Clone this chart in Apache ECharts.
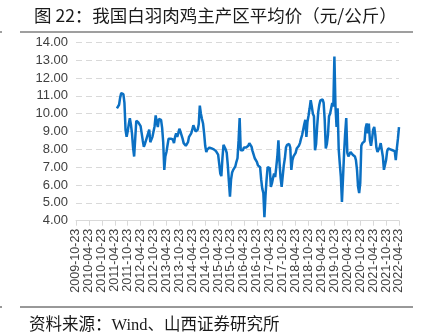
<!DOCTYPE html>
<html>
<head>
<meta charset="utf-8">
<script src="https://cdn.jsdelivr.net/npm/echarts@6/dist/echarts.min.js"></script>
<style>
html,body{margin:0;padding:0;background:#fff;}
#c{width:424px;height:336px;}
</style>
</head>
<body>
<div id="c"></div>
<script>
const titleText = '图 22：我国白羽肉鸡主产区平均价（元/公斤）';
const sourceText = '资料来源：Wind、山西证券研究所';
const tickLabels = ['2009-10-23','2010-04-23','2010-10-23','2011-04-23','2011-10-23','2012-04-23','2012-10-23','2013-04-23','2013-10-23','2014-04-23','2014-10-23','2015-04-23','2015-10-23','2016-04-23','2016-10-23','2017-04-23','2017-10-23','2018-04-23','2018-10-23','2019-04-23','2019-10-23','2020-04-23','2020-10-23','2021-04-23','2021-10-23','2022-04-23'];
const firstDate = '2011-05-23';
// semi-monthly prices (元/公斤) from 2011-05-23 to 2022-04-23
const prices = [
10.3,10.4,10.5,10.9,11.15,11.1,11.1,10.6,9.1,8.7,9.0,9.4,9.75,9.4,8.9,8.1,7.6,8.6,9.6,9.7,
9.5,9.45,9.3,9.2,8.5,8.15,8.3,8.4,8.7,8.9,9.1,8.4,8.5,8.7,9.0,9.3,9.9,9.5,9.25,9.7,
9.75,9.65,9.2,8.4,6.85,7.6,7.85,7.9,8.6,8.65,8.6,8.6,8.55,8.35,8.7,8.9,8.7,8.9,9.15,9.0,
8.8,8.6,8.35,8.3,8.2,8.15,8.4,8.7,8.8,8.9,9.1,9.35,9.2,9.0,8.9,9.1,9.4,10.45,10.0,9.7,
9.45,8.9,8.2,7.85,8.0,8.05,8.1,8.15,8.05,7.95,8.0,8.05,7.9,7.8,7.7,7.2,6.65,6.5,7.5,8.25,
8.15,8.0,7.8,7.1,6.2,5.35,6.3,6.7,6.85,6.85,7.05,7.3,7.5,8.5,9.75,7.95,7.85,7.95,8.1,8.15,
8.1,8.05,8.2,8.35,8.25,8.15,7.9,7.7,7.5,7.5,7.3,7.1,7.15,7.0,6.3,5.8,5.55,4.2,5.4,6.3,
7.0,7.1,6.95,5.9,6.1,6.4,6.65,6.45,7.0,7.6,8.5,7.3,6.4,5.9,6.5,7.1,7.5,8.1,8.25,8.25,
8.3,8.1,6.85,7.4,7.6,7.6,7.8,8.05,8.15,8.2,8.35,8.6,8.8,9.1,9.4,9.65,8.7,9.55,9.9,10.3,
10.75,10.4,10.0,9.85,7.95,8.3,9.3,10.1,10.5,10.75,10.85,10.8,10.6,9.65,8.05,8.3,8.8,9.85,10.0,10.3,
10.6,10.4,13.2,10.4,9.25,10.3,8.0,7.2,6.45,5.05,6.4,7.8,8.9,9.75,7.8,7.6,7.65,7.85,7.75,7.7,
7.8,7.6,7.4,6.85,5.9,5.55,6.1,8.2,8.35,8.25,8.45,9.2,9.45,8.9,9.45,8.5,8.2,8.6,9.1,9.25,
8.8,8.1,7.85,7.85,8.1,8.35,8.35,7.6,6.85,6.85,7.4,7.9,8.05,8.05,8.0,8.0,7.95,7.95,7.9,7.4,
8.05,8.6,9.25
];

function pad(n){return n<10?'0'+n:''+n;}
const categories = [];
(function(){
  const start = 2009*12 + 9; // Oct 2009
  const months = 150;
  for (let m = 0; m <= months; m++) {
    const t = start + m;
    categories.push(Math.floor(t/12) + '-' + pad(t%12+1) + '-23');
    if (m < months) {
      const t2 = t + 1;
      categories.push(Math.floor(t2/12) + '-' + pad(t2%12+1) + '-08');
    }
  }
})();
const offset = categories.indexOf(firstDate);
const seriesData = categories.map((c,i)=> (i>=offset && i-offset<prices.length) ? prices[i-offset] : null);

const chart = echarts.init(document.getElementById('c'), null, {renderer:'canvas'});
chart.setOption({
  animation:false,
  backgroundColor:'#fff',
  title:{
    text:titleText, left:29, top:2,
    textStyle:{fontFamily:'"Noto Sans CJK SC", sans-serif', fontSize:17.5, fontWeight:'normal', color:'#1a1a1a'}
  },
  graphic:[
    {type:'line', shape:{x1:20,y1:32,x2:413,y2:32}, style:{stroke:'#7f7f7f', lineWidth:1.5}},
    {type:'line', shape:{x1:0,y1:32,x2:2,y2:32}, style:{stroke:'#7f7f7f', lineWidth:1.5}},
    {type:'line', shape:{x1:20,y1:307,x2:413,y2:307}, style:{stroke:'#333', lineWidth:1}},
    {type:'line', shape:{x1:0,y1:307,x2:2,y2:307}, style:{stroke:'#333', lineWidth:1}},
    {type:'text', left:29, top:317, style:{text:sourceText, fill:'#1a1a1a', font:'16.5px "Liberation Serif", "Noto Sans CJK SC", serif'}}
  ],
  grid:{left:76, right:25, top:42.3, bottom:115.3, containLabel:false},
  xAxis:{
    type:'category', data:categories, boundaryGap:false,
    axisLine:{lineStyle:{color:'#d9d9d9', width:1}},
    axisTick:{show:true, interval:(i)=> tickLabels.indexOf(categories[i])>=0, length:5, lineStyle:{color:'#d9d9d9'}},
    axisLabel:{
      interval:(i)=> tickLabels.indexOf(categories[i])>=0,
      rotate:90, margin:8,
      fontFamily:'"Liberation Sans", Arial, sans-serif', fontSize:12.5, color:'#404040'
    },
    splitLine:{show:false}
  },
  yAxis:{
    type:'value', min:4, max:14, interval:1,
    axisLine:{show:false}, axisTick:{show:false},
    axisLabel:{formatter:(v)=>v.toFixed(2), fontFamily:'"Liberation Sans", Arial, sans-serif', fontSize:13, color:'#404040', margin:8},
    splitLine:{show:true, lineStyle:{color:'#d9d9d9', type:[6,4], width:1}}
  },
  series:[{
    type:'line', data:seriesData, showSymbol:false, connectNulls:false,
    lineStyle:{color:'#0b70c3', width:2.5}, itemStyle:{color:'#0b70c3'}
  }]
});
</script>
</body>
</html>
